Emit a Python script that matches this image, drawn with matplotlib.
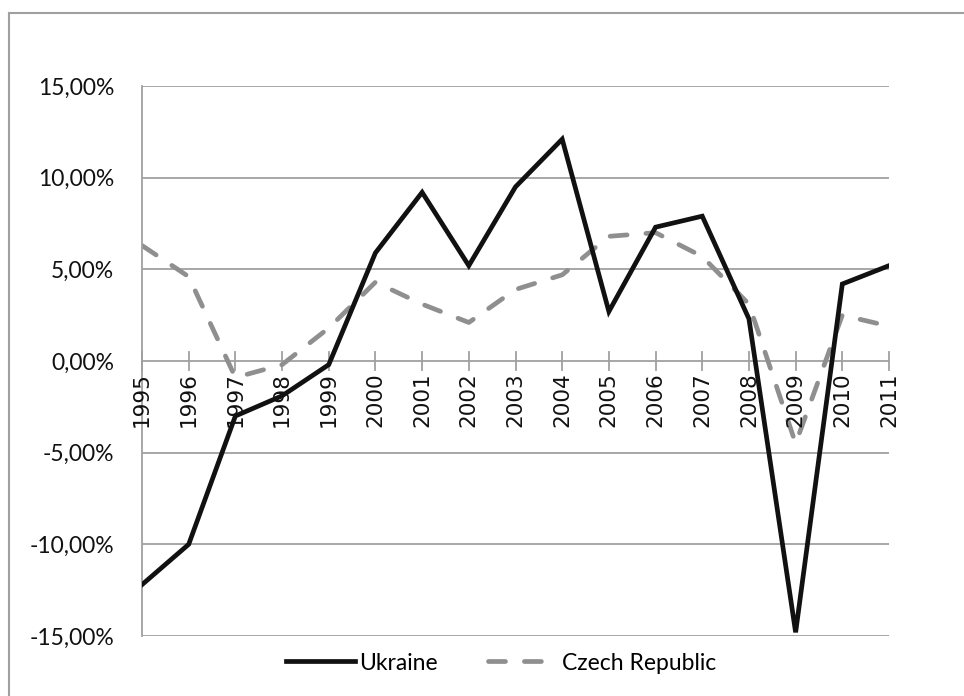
import matplotlib.pyplot as plt
from matplotlib.lines import Line2D
from matplotlib.ticker import FuncFormatter

plt.rcParams['font.family'] = ['Lato', 'DejaVu Sans']

years = ['1995', '1996', '1997', '1998', '1999', '2000', '2001', '2002', '2003',
         '2004', '2005', '2006', '2007', '2008', '2009', '2010', '2011']
ukraine = [-12.2, -10.0, -3.0, -1.9, -0.2, 5.9, 9.2, 5.2, 9.5,
           12.1, 2.7, 7.3, 7.9, 2.3, -14.8, 4.2, 5.2]
czech = [6.3, 4.6, -0.9, -0.2, 1.8, 4.3, 3.1, 2.1, 3.9,
         4.7, 6.8, 7.0, 5.7, 3.1, -4.5, 2.5, 1.9]
yticks = [-15, -10, -5, 0, 5, 10, 15]

fig = plt.figure(figsize=(9.64, 6.96), dpi=100)
ax = fig.add_axes([142/964, 1 - 636/696, 747/964, 550/696])

x = list(range(len(years)))
grid_c = '#a0a0a0'
for v in yticks:
    ax.axhline(v, color=grid_c, lw=1.3, zorder=1)

ax.plot(x, ukraine, color='#111111', lw=3.4, solid_joinstyle='miter', zorder=3,
        label='Ukraine')
ax.plot(x, czech, color='#8f8f8f', lw=3.4, dashes=(3.6, 4), dash_capstyle='round',
        zorder=2, label='Czech Republic')

ax.set_xlim(0, len(years) - 1)
ax.set_ylim(-15, 15)
ax.set_yticks(yticks)
ax.yaxis.set_major_formatter(FuncFormatter(lambda v, p: ('%.2f%%' % v).replace('.', ',')))
ax.tick_params(axis='y', length=0, labelsize=16.5, pad=20, colors='#111111')

for s in ['top', 'right', 'bottom']:
    ax.spines[s].set_visible(False)
ax.spines['left'].set_color(grid_c)
ax.spines['left'].set_linewidth(1.3)

# x axis sits at 0 with crossing ticks and rotated labels
ax.set_xticks([])
for i, yr in enumerate(years):
    ax.plot([i, i], [-0.5, 0.5], color=grid_c, lw=1.3, zorder=1, clip_on=False)
    ax.text(i, -0.6, yr, rotation=90, ha='center', va='top', fontsize=15.5,
            family=['DejaVu Sans'], color='#111111', zorder=4)

handles = [Line2D([], [], color='#111111', lw=3.4),
           Line2D([], [], color='#8f8f8f', lw=3.4, dashes=(3.6, 4), dash_capstyle='round')]
fig.legend(handles, ['Ukraine', 'Czech Republic'], loc='center',
           bbox_to_anchor=(501/964, 1 - 663/696), ncol=2, frameon=False,
           fontsize=16.5, handlelength=3.0, handletextpad=0.2, columnspacing=2.2)

# outer chart frame (top and left edges visible)
fig.add_artist(Line2D([9/964, 1], [1 - 13/696, 1 - 13/696], transform=fig.transFigure,
                      color='#a0a0a0', lw=1.5))
fig.add_artist(Line2D([9/964, 9/964], [0, 1 - 13/696], transform=fig.transFigure,
                      color='#a0a0a0', lw=1.5))

fig.savefig('out.png', dpi=100)
